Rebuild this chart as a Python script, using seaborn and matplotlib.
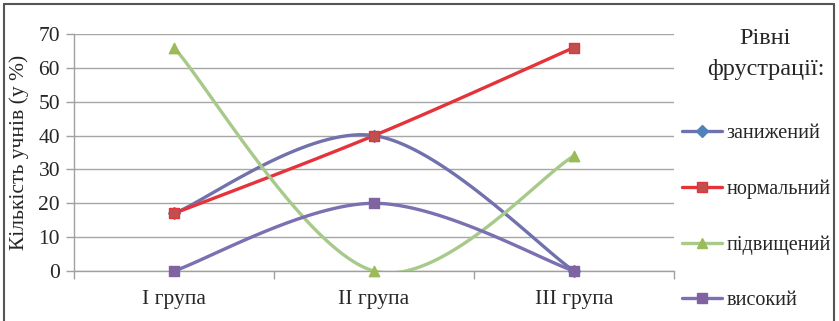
import numpy as np
import pandas as pd
import matplotlib
matplotlib.use("Agg")
import matplotlib.pyplot as plt
from matplotlib.lines import Line2D
import seaborn as sns

categories = ["I група", "II група", "III група"]
series_names = ["занижений", "нормальний", "підвищений", "високий"]
zanyzhenyi = [17, 40, 0]
normalnyi = [17, 40, 66]
pidvyshchenyi = [66, 0, 34]
vysokyi = [0, 20, 0]
y_ticks = [0, 10, 20, 30, 40, 50, 60, 70]

values = [zanyzhenyi, normalnyi, pidvyshchenyi, vysokyi]
line_colors = ["#7171AD", "#E5333B", "#A7C98A", "#7A70B2"]
marker_faces = ["#4F81BD", "#C0504D", "#9BBB59", "#8064A2"]
marker_edges = ["#4F81BD", "#E5333B", "#9BBB59", "#8064A2"]
markers = ["D", "s", "^", "s"]
marker_sizes = [6, 7.5, 7.5, 7.5]


def smooth(ys, n=60):
    """Catmull-Rom style Bezier smoothing through the points."""
    xs = np.arange(len(ys), dtype=float)
    ys = np.asarray(ys, dtype=float)
    pts = np.column_stack([xs, ys])
    ext = np.vstack([pts[0], pts, pts[-1]])
    out = []
    t = np.linspace(0, 1, n)[:, None]
    for i in range(len(pts) - 1):
        p0, p3 = ext[i + 1], ext[i + 2]
        c1 = p0 + (ext[i + 2] - ext[i]) / 6.0
        c2 = p3 - (ext[i + 3] - ext[i + 1]) / 6.0
        seg = ((1 - t) ** 3) * p0 + 3 * ((1 - t) ** 2) * t * c1 + 3 * (1 - t) * t ** 2 * c2 + t ** 3 * p3
        out.append(seg if i == 0 else seg[1:])
    seg = np.vstack(out)
    return seg[:, 0], seg[:, 1]


sns.set_theme(style="white")
plt.rcParams["font.family"] = ["Liberation Serif", "DejaVu Serif"]

fig = plt.figure(figsize=(8.39, 3.21), dpi=100)
ax = fig.add_axes([74 / 839, 1 - 271 / 321, 600 / 839, (271 - 34) / 321])

for i, name in enumerate(series_names):
    sx, sy = smooth(values[i])
    curve = pd.DataFrame({"x": sx, "y": sy})
    sns.lineplot(data=curve, x="x", y="y", ax=ax, color=line_colors[i], linewidth=2.4,
                 estimator=None, sort=False, zorder=2 + i, legend=False)
    pts = pd.DataFrame({"x": np.arange(len(categories)), "y": values[i]})
    sns.scatterplot(data=pts, x="x", y="y", ax=ax, marker=markers[i], s=marker_sizes[i] ** 2,
                    color=marker_faces[i], edgecolor=marker_edges[i], linewidth=1.0,
                    zorder=10 + i, legend=False, clip_on=False)

ax.set_xlim(-0.5, 2.5)
ax.set_ylim(0, 70)
ax.set_yticks(y_ticks)
ax.set_yticklabels([str(v) for v in y_ticks], fontsize=15.5)
ax.set_xticks([-0.5, 0.5, 1.5, 2.5])
ax.set_xticklabels([])
ax.set_xticks([0, 1, 2], minor=True)
ax.set_xticklabels(categories, minor=True, fontsize=15.5)
ax.tick_params(axis="x", which="major", length=6, width=1, color="#A0A0A0", direction="out", bottom=True)
ax.tick_params(axis="x", which="minor", length=0, pad=14)
ax.tick_params(axis="y", length=6, width=1, color="#A0A0A0", direction="out", left=True, pad=4)
ax.set_xlabel("")
ax.set_ylabel("Кількість учнів (у %)", fontsize=15.5, labelpad=7)

ax.grid(axis="y", color="#A6A6A6", linewidth=1)
ax.grid(axis="x", visible=False)
ax.set_axisbelow(True)
for side in ["top", "right"]:
    ax.spines[side].set_visible(False)
for side in ["left", "bottom"]:
    ax.spines[side].set_color("#A0A0A0")
    ax.spines[side].set_linewidth(1)
    ax.spines[side].set_zorder(1)

handles = [
    Line2D([], [], color=line_colors[i], linewidth=2.4, marker=markers[i],
           markersize=marker_sizes[i], markerfacecolor=marker_faces[i],
           markeredgecolor=marker_edges[i])
    for i in range(len(series_names))
]
fig.legend(handles, series_names, loc="upper left", bbox_to_anchor=(682 / 839, 1 - 124 / 321),
           frameon=False, fontsize=14.5, handlelength=2.0, handletextpad=0.2,
           labelspacing=1.8, borderaxespad=0, borderpad=0)
fig.text(765 / 839, 1 - 38 / 321, "Рівні", fontsize=17.5, ha="center", va="center")
fig.text(766 / 839, 1 - 70 / 321, "фрустрації:", fontsize=17.5, ha="center", va="center")

# chart frame
frame_kw = dict(color="#555555", linewidth=1.5, transform=fig.transFigure)
fig.add_artist(Line2D([4 / 839, 4 / 839], [-0.05, 1 - 4 / 321], **frame_kw))
fig.add_artist(Line2D([4 / 839, 834 / 839], [1 - 4 / 321, 1 - 4 / 321], **frame_kw))
fig.add_artist(Line2D([834 / 839, 834 / 839], [-0.05, 1 - 4 / 321], **frame_kw))

fig.savefig("out.png", dpi=100, facecolor="white")
